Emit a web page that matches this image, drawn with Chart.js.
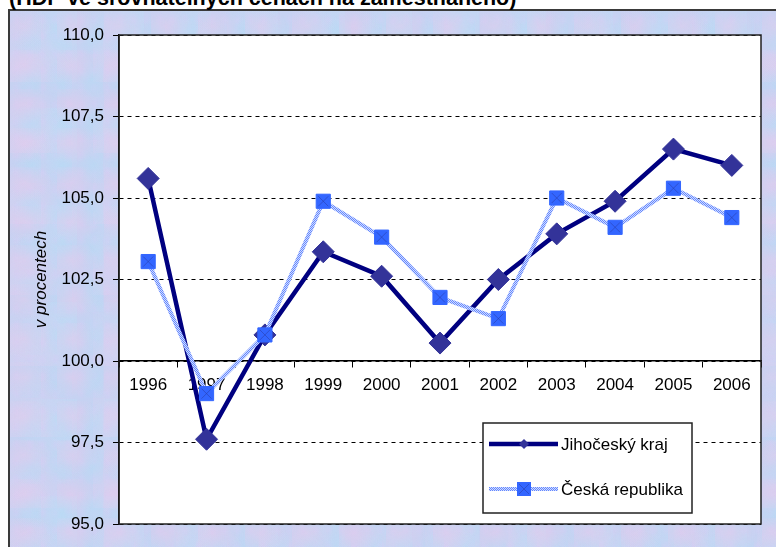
<!DOCTYPE html>
<html>
<head>
<meta charset="utf-8">
<script src="https://cdn.jsdelivr.net/npm/chart.js@4.4.0/dist/chart.umd.min.js"></script>
<style>
  html, body { margin: 0; padding: 0; background: #fff; overflow: hidden; }
  body { width: 776px; height: 547px; position: relative; font-family: "Liberation Sans", Arial, sans-serif; }
  #frame {
    position: absolute; left: 8px; top: 9px; width: 800px; height: 600px;
    border: 2px solid #3a3a3a;
    background:
      radial-gradient(ellipse at 30% 40%, rgba(236,200,234,.45) 0, transparent 60%) 0 0/47px 39px,
      radial-gradient(ellipse at 70% 60%, rgba(176,222,246,.45) 0, transparent 60%) 0 0/31px 43px,
      radial-gradient(ellipse at 50% 50%, rgba(212,206,246,.4) 0, transparent 55%) 0 0/13px 17px,
      radial-gradient(ellipse at 20% 80%, rgba(230,208,240,.35) 0, transparent 60%) 0 0/83px 71px,
      radial-gradient(ellipse at 80% 20%, rgba(186,226,248,.35) 0, transparent 60%) 0 0/67px 97px,
      #c6d2f2;
  }
  #title {
    position: absolute; left: 9px; top: -12px; font-weight: bold; font-size: 21.5px;
    line-height: 21px; white-space: nowrap; color: #000;
  }
  canvas { position: absolute; left: 0; top: 0; }
</style>
</head>
<body>
<div id="frame"></div>
<div id="title">(HDP ve srovnatelných cenách na zaměstnaného)</div>
<canvas id="chart" width="776" height="547"></canvas>
<script>
// Data
const years = ["1996", "1997", "1998", "1999", "2000", "2001", "2002", "2003", "2004", "2005", "2006"];
const jihocesky = [105.6, 97.6, 100.8, 103.35, 102.6, 100.55, 102.5, 103.9, 104.9, 106.5, 106.0];
const ceskaRep = [103.05, 99.0, 100.8, 104.9, 103.8, 101.95, 101.3, 105.0, 104.1, 105.3, 104.4];
const seriesNames = ["Jihočeský kraj", "Česká republika"];
const yTitle = "v procentech";

const FONT = "'Liberation Sans', Arial, sans-serif";

// dithered light blue line like the Excel one
function makePattern() {
    const c = document.createElement("canvas");
    c.width = 2; c.height = 2;
    const g = c.getContext("2d");
    g.fillStyle = "#cfdcff"; g.fillRect(0, 0, 2, 2);
    g.fillStyle = "#6688ff"; g.fillRect(0, 0, 1, 1); g.fillRect(1, 1, 1, 1);
    return g.createPattern(c, "repeat");
}
const ctx = document.getElementById("chart").getContext("2d");
const lightLine = makePattern();

// white plot area + frame
const plotArea = {
    id: "plotArea",
    beforeDraw(chart) {
        const a = chart.chartArea, c = chart.ctx;
        c.save();
        c.fillStyle = "#fff";
        c.fillRect(a.left, a.top, a.right - a.left, a.bottom - a.top);
        c.restore();
    },
    beforeDatasetsDraw(chart) {
        const a = chart.chartArea, c = chart.ctx;
        c.save();
        c.strokeStyle = "#222";
        c.lineWidth = 1.5;
        c.strokeRect(a.left, a.top, a.right - a.left, a.bottom - a.top);
        c.restore();
    }
};

// faint x inside the square markers
const squareCross = {
    id: "squareCross",
    afterDatasetsDraw(chart) {
        const c = chart.ctx;
        const meta = chart.getDatasetMeta(1);
        c.save();
        c.strokeStyle = "rgba(40,60,170,0.55)";
        c.lineWidth = 1;
        meta.data.forEach(p => {
            c.beginPath();
            c.moveTo(p.x - 5, p.y - 5); c.lineTo(p.x + 5, p.y + 5);
            c.moveTo(p.x + 5, p.y - 5); c.lineTo(p.x - 5, p.y + 5);
            c.stroke();
        });
        c.restore();
    }
};

// legend box inside plot, bottom right
const boxLegend = {
    id: "boxLegend",
    afterDraw(chart) {
        const a = chart.chartArea, c = chart.ctx;
        const x = a.right - 278, y = a.bottom - 101, w = 209, h = 90;
        c.save();
        c.fillStyle = "#fff";
        c.fillRect(x, y, w, h);
        c.strokeStyle = "#222";
        c.lineWidth = 1.5;
        c.strokeRect(x, y, w, h);

        const rows = [y + 21, y + 66];
        chart.data.datasets.forEach((ds, i) => {
            const ry = rows[i];
            c.beginPath();
            c.moveTo(x + 6, ry); c.lineTo(x + 75, ry);
            c.strokeStyle = ds.borderColor;
            c.lineWidth = ds.borderWidth;
            c.stroke();
            const mx = x + 41;
            c.fillStyle = ds.pointBackgroundColor;
            if (ds.pointStyle === "rectRot") {
                c.beginPath();
                c.moveTo(mx - 5, ry); c.lineTo(mx, ry - 5); c.lineTo(mx + 5, ry); c.lineTo(mx, ry + 5);
                c.closePath(); c.fill();
            } else {
                c.fillRect(mx - 7, ry - 7, 14, 14);
                c.strokeStyle = "rgba(40,60,170,0.55)";
                c.lineWidth = 1;
                c.beginPath();
                c.moveTo(mx - 5, ry - 5); c.lineTo(mx + 5, ry + 5);
                c.moveTo(mx + 5, ry - 5); c.lineTo(mx - 5, ry + 5);
                c.stroke();
            }
            c.fillStyle = "#000";
            c.font = "17px " + FONT;
            c.textBaseline = "middle";
            c.fillText(ds.label, x + 78, ry + 1);
        });
        c.restore();
    }
};

new Chart(ctx, {
    type: "line",
    data: {
        labels: years,
        datasets: [
            {
                label: seriesNames[0],
                data: jihocesky,
                borderColor: "#000080",
                borderWidth: 4.5,
                pointStyle: "rectRot",
                pointRadius: 11,
                pointHoverRadius: 11,
                pointBackgroundColor: "#333399",
                pointBorderColor: "#333399",
                pointBorderWidth: 1,
                tension: 0,
                order: 2
            },
            {
                label: seriesNames[1],
                data: ceskaRep,
                borderColor: lightLine,
                borderWidth: 4,
                pointStyle: "rect",
                pointRadius: 10,
                pointHoverRadius: 10,
                pointBackgroundColor: "#3366ff",
                pointBorderColor: "#3366ff",
                pointBorderWidth: 1,
                tension: 0,
                order: 1
            }
        ]
    },
    options: {
        responsive: false,
        animation: false,
        devicePixelRatio: 1,
        layout: { padding: { top: 35, right: 15, bottom: 23, left: 0 } },
        plugins: { legend: { display: false }, tooltip: { enabled: false } },
        scales: {
            x: {
                type: "category",
                position: { y: 100 },
                offset: true,
                grid: { offset: true, drawOnChartArea: false, drawTicks: true, tickLength: 6, color: "#000", tickColor: "#000" },
                border: { display: true, color: "#000", width: 1.5 },
                ticks: { color: "#000", font: { family: FONT, size: 17 }, padding: 8, autoSkip: false, maxRotation: 0 }
            },
            y: {
                min: 95,
                max: 110,
                afterFit: (s) => { s.width = 119; },
                ticks: {
                    stepSize: 2.5,
                    color: "#000",
                    font: { family: FONT, size: 17 },
                    padding: 9,
                    callback: (v) => v.toFixed(1).replace(".", ",")
                },
                grid: { color: "#000", lineWidth: 1, tickLength: 6, tickColor: "#000" },
                border: { display: true, color: "#000", width: 1.5, dash: [4, 4] },
                title: {
                    display: true,
                    text: yTitle,
                    color: "#000",
                    font: { family: FONT, size: 17, style: "italic" },
                    padding: { top: 31, bottom: 0 }
                }
            }
        }
    },
    plugins: [plotArea, squareCross, boxLegend]
});
</script>
</body>
</html>
